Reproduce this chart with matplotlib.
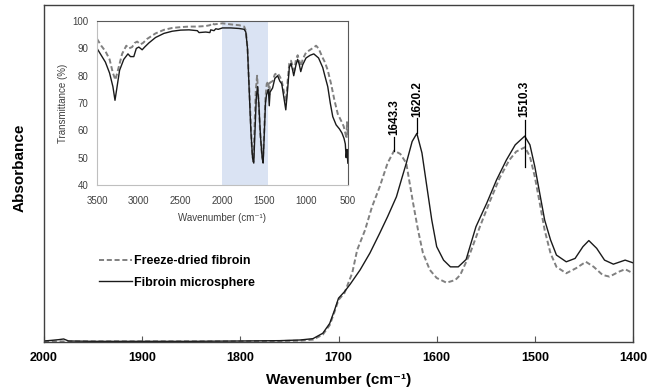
import matplotlib
matplotlib.use("Agg")
import matplotlib.pyplot as plt

plt.rcParams['font.family'] = ['Liberation Sans', 'DejaVu Sans']

# main spectrum, 2000-1400 cm-1 (absorbance, arbitrary units)
wn_micro = [2000, 1992, 1985, 1980, 1975, 1950, 1900, 1850, 1800, 1760, 1739, 1726, 1716, 1709,
            1704, 1700, 1694, 1688, 1678, 1668, 1658, 1650, 1641, 1636, 1631, 1625, 1620.2, 1615,
            1610, 1605, 1600, 1593, 1586, 1578, 1570, 1560, 1549, 1539, 1529, 1520, 1510.3, 1505,
            1500, 1495, 1490, 1484, 1478, 1468, 1459, 1451, 1445, 1437, 1429, 1420, 1408, 1400]
abs_micro = [0.003, 0.005, 0.007, 0.009, 0.003, 0.002, 0.002, 0.002, 0.003, 0.004, 0.006, 0.010,
             0.026, 0.055, 0.095, 0.130, 0.149, 0.172, 0.214, 0.264, 0.323, 0.372, 0.431, 0.481,
             0.530, 0.595, 0.619, 0.561, 0.461, 0.362, 0.283, 0.243, 0.223, 0.223, 0.245, 0.342,
             0.412, 0.481, 0.540, 0.585, 0.611, 0.585, 0.520, 0.441, 0.362, 0.303, 0.258, 0.238,
             0.248, 0.283, 0.301, 0.278, 0.243, 0.231, 0.243, 0.235]

wn_freeze = [2000, 1950, 1900, 1850, 1800, 1760, 1739, 1726, 1716, 1709, 1704, 1700, 1694, 1686,
             1681, 1673, 1666, 1658, 1650, 1643.3, 1637, 1631, 1624, 1619, 1614, 1607, 1600, 1590,
             1581, 1576, 1566, 1556, 1546, 1536, 1526, 1519, 1510, 1505, 1500, 1495, 1490, 1484,
             1478, 1468, 1458, 1448, 1440, 1431, 1424, 1414, 1408, 1400]
abs_freeze = [0.002, 0.002, 0.002, 0.002, 0.002, 0.003, 0.004, 0.007, 0.022, 0.050, 0.090, 0.125,
              0.145, 0.205, 0.273, 0.332, 0.400, 0.461, 0.531, 0.568, 0.558, 0.531, 0.412, 0.332,
              0.264, 0.214, 0.190, 0.176, 0.184, 0.199, 0.263, 0.342, 0.416, 0.486, 0.540, 0.565,
              0.578, 0.550, 0.490, 0.412, 0.332, 0.263, 0.223, 0.204, 0.219, 0.238, 0.223, 0.199,
              0.194, 0.209, 0.216, 0.204]

peak_pos = [1643.3, 1620.2, 1510.3]
peak_labels = ['1643.3', '1620.2', '1510.3']
peak_line = [(0.568, 0.608), (0.619, 0.665), (0.519, 0.659)]
peak_text_y = [0.614, 0.668, 0.668]

# inset: full spectrum, transmittance (%)
wn_micro_full = [3500, 3450, 3400, 3350, 3310, 3285, 3260, 3230, 3180, 3130, 3100, 3060, 3030, 3000,
                 2960, 2930, 2880, 2800, 2700, 2600, 2500, 2400, 2300, 2280, 2200, 2150, 2140, 2100,
                 2080, 2050, 2000, 1900, 1800, 1740, 1720, 1700, 1680, 1660, 1640, 1625, 1610, 1595,
                 1580, 1565, 1545, 1525, 1513, 1500, 1485, 1473, 1460, 1450, 1440, 1430, 1400, 1373,
                 1340, 1313, 1290, 1270, 1242, 1220, 1200, 1180, 1160, 1147, 1120, 1100, 1080, 1063,
                 1040, 1000, 950, 907, 850, 800, 775, 740, 710, 680, 640, 600, 570, 545, 530, 520,
                 510, 500]
t_micro_full = [90, 87.5, 85, 81, 76, 71, 76, 82, 86, 88, 87, 87, 90, 90.5, 89.5, 90.5, 92, 94,
                95.5, 96.3, 96.7, 96.8, 96.5, 95.8, 96, 95.8, 96.8, 96.5, 97.2, 97, 97.5, 97.5,
                97.3, 97, 96, 90, 75, 60, 50, 48, 60, 72, 76, 70, 58, 50, 48, 58, 70, 73, 74, 75,
                69, 74, 75.5, 79, 80, 78, 77, 73, 67.5, 75, 83, 84.5, 82, 80, 84, 86, 84, 81.5, 84,
                86.5, 87.5, 88, 86.5, 83, 80, 76, 70, 65, 62, 60.5, 59, 57, 55, 50, 53, 48]

wn_freeze_full = [3500, 3450, 3400, 3350, 3310, 3280, 3250, 3200, 3150, 3120, 3080, 3050, 3020,
                  2980, 2950, 2900, 2800, 2700, 2600, 2500, 2400, 2300, 2200, 2150, 2120, 2100,
                  2050, 2000, 1900, 1800, 1740, 1720, 1700, 1680, 1660, 1645, 1630, 1615, 1600,
                  1585, 1570, 1550, 1530, 1515, 1500, 1485, 1470, 1450, 1440, 1430, 1400, 1373,
                  1340, 1310, 1290, 1270, 1240, 1220, 1200, 1180, 1160, 1140, 1120, 1100, 1080,
                  1060, 1040, 1000, 950, 900, 880, 850, 800, 775, 740, 700, 660, 620, 580, 550,
                  530, 515, 510, 500]
t_freeze_full = [93.5, 91, 89, 86, 81, 78.5, 82, 88, 91, 90, 90.5, 92, 92.5, 91.5, 92, 93.5, 95.5,
                 96.8, 97.5, 97.8, 98, 98, 98.2, 98.5, 99.3, 98.8, 99, 99.2, 98.8, 98.5, 98, 96.5,
                 90, 76, 62, 52, 48.5, 62, 75, 80, 72, 60, 52, 49, 60, 72, 77, 78, 73, 77.5, 78,
                 80.5, 81, 79.5, 78, 75, 70.5, 78, 84.5, 85.5, 83.5, 82, 86, 87.5, 85.5, 83.5, 86,
                 88.5, 89.5, 90.5, 91, 90, 86.5, 85, 82, 77, 71, 66, 63.5, 61.5, 59, 57, 63, 58]

shade_range = (2000, 1450)

fig = plt.figure(figsize=(6.6, 3.91), dpi=100)
ax = fig.add_axes([0.0667, 0.1253, 0.8924, 0.8619])

dash_grey = '#808080'
ax.plot(wn_freeze, abs_freeze, color=dash_grey, lw=1.4, dashes=(2.6, 1.4),
        label='Freeze-dried fibroin')
ax.plot(wn_micro, abs_micro, color='#1a1a1a', lw=1.0, label='Fibroin microsphere')

for x, lab, (y0, y1), ty in zip(peak_pos, peak_labels, peak_line, peak_text_y):
    ax.plot([x, x], [y0, y1], color='black', lw=0.9)
    ax.text(x, ty, lab, rotation=90, ha='center', va='bottom',
            fontsize=8.5, fontweight='bold')

ax.set_xlim(2000, 1400)
ax.set_ylim(0, 1)
ax.set_xticks([2000, 1900, 1800, 1700, 1600, 1500, 1400])
ax.set_yticks([])
ax.tick_params(axis='x', direction='in', length=4, width=0.8, color='#595959',
               labelsize=9, pad=7)
for lab in ax.get_xticklabels():
    lab.set_fontweight('bold')
for sp in ax.spines.values():
    sp.set_color('#404040')
    sp.set_linewidth(1.0)
ax.set_xlabel('Wavenumber (cm\u207b\u00b9)', fontsize=11, fontweight='bold', labelpad=7)
fig.text(0.030, 0.57, 'Absorbance', rotation=90, ha='center', va='center',
         fontsize=11, fontweight='bold')

ax.legend(loc='upper left', bbox_to_anchor=(0.143, 0.36), bbox_transform=fig.transFigure,
          frameon=False, prop={'weight': 'bold', 'size': 9},
          handlelength=2.6, handletextpad=0.15, labelspacing=0.75, borderaxespad=0)

# inset
ins = fig.add_axes([0.147, 0.527, 0.380, 0.419])
ins.axvspan(shade_range[0], shade_range[1], color='#dae3f3', lw=0, zorder=0)
ins.plot(wn_freeze_full, t_freeze_full, color=dash_grey, lw=1.4, dashes=(2.6, 1.4))
ins.plot(wn_micro_full, t_micro_full, color='#1a1a1a', lw=1.0)
ins.set_xlim(3500, 500)
ins.set_ylim(40, 100)
ins.set_xticks([3500, 3000, 2500, 2000, 1500, 1000, 500])
ins.set_yticks([40, 50, 60, 70, 80, 90, 100])
ins.tick_params(length=0, labelsize=7, labelcolor='#404040', pad=6)
ins.tick_params(axis='x', pad=8)
ins.spines['top'].set_color('#595959')
ins.spines['right'].set_color('#595959')
ins.spines['left'].set_color('#bfbfbf')
ins.spines['bottom'].set_color('#bfbfbf')
ins.set_xlabel('Wavenumber (cm\u207b\u00b9)', fontsize=7, color='#404040', labelpad=5)
ins.set_ylabel('Transmittance (%)', fontsize=7, color='#404040', labelpad=3)

fig.savefig('out.png', dpi=100)
